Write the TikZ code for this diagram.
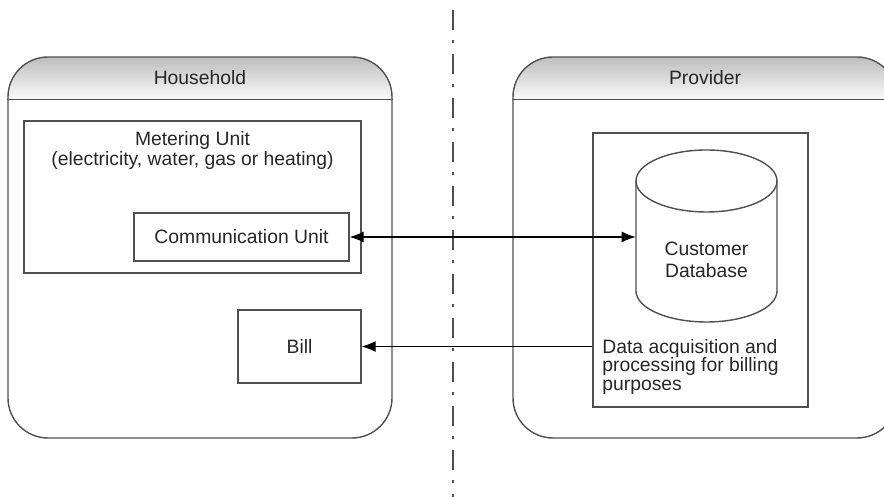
\documentclass[tikz,border=0pt]{standalone}
\usepackage{fontspec}
\setmainfont{Liberation Sans}
\usepackage{tikz}
\usetikzlibrary{positioning, arrows.meta}
\definecolor{color0}{RGB}{80,80,80}
\definecolor{color1}{RGB}{190,190,190}

\begin{document}
\begin{tikzpicture}[font=\fontsize{11}{10.8}\selectfont, text=black!85]
	\tikzstyle{zonebox}=[rectangle, rounded corners=0.8cm, draw=color0, line width=0.8pt, minimum width=7.68cm, minimum height=7.62cm,
		path picture={
			\foreach \i [evaluate=\i as \pct using 100-4.4*\i] in {0,...,21}{
				\fill[sharp corners, color1!\pct!white] ([yshift={-0.04cm*\i}]path picture bounding box.north west) rectangle ([yshift={-0.04cm*(\i+1)-0.01cm}]path picture bounding box.north east);
			}
		}]
	\tikzstyle{unitbox}=[rectangle, draw=color0, line width=0.8pt]
	\tikzstyle{link}=[line width=0.6pt, black]

	\clip (0cm, 0cm) rectangle (17.68cm, 9.94cm);

	% the two sides
	\node[zonebox] (household) at (4cm, 4.99cm) {};
	\node[zonebox] (provider) at (14.1cm, 4.99cm) {};
	\foreach \side in {household, provider}{
		\draw[color0, line width=0.8pt] ([yshift=-0.86cm]\side.north west) -- ([yshift=-0.86cm]\side.north east);
	}
	\node (household-title) at ([yshift=-0.43cm]household.north) {Household};
	\node (provider-title) at ([yshift=-0.43cm]provider.north) {Provider};

	% household
	\node[unitbox, minimum width=6.74cm, minimum height=3.04cm] (metering) at (3.85cm, 6cm) {};
	\node[align=center, font=\fontsize{11}{9.7}\selectfont] (metering-text) at ([yshift=-0.6cm]metering.north) {Metering Unit\\(electricity, water, gas or heating)};
	\node[unitbox, minimum width=4.3cm, minimum height=0.96cm] (comm) at (4.83cm, 5.2cm) {Communication Unit};
	\node[unitbox, minimum width=2.46cm, minimum height=1.46cm] (bill) at (5.99cm, 3.01cm) {Bill};

	% provider
	\node[unitbox, minimum width=4.3cm, minimum height=5.48cm] (data) at (14.01cm, 4.54cm) {};
	\draw[color0, line width=0.8pt, fill=white] (12.72cm, 6.32cm) -- (12.72cm, 4.12cm) arc[start angle=180, end angle=360, x radius=1.41cm, y radius=0.62cm] -- (15.54cm, 6.32cm);
	\draw[color0, line width=0.8pt] (14.13cm, 6.32cm) ellipse[x radius=1.41cm, y radius=0.62cm];
	\node[minimum width=2.82cm, minimum height=2.2cm, inner sep=0] (database) at (14.13cm, 5.2cm) {};
	\node[align=center, font=\fontsize{11}{12.5}\selectfont] (database-text) at (14.13cm, 4.74cm) {Customer\\Database};
	\node[align=left, anchor=west, inner sep=0] (data-text) at (12.04cm, 2.6cm) {Data acquisition and\\processing for billing\\purposes};

	% separation
	\coordinate (sep-top) at (9.06cm, 9.74cm);
	\coordinate (sep-bottom) at (9.06cm, 0cm);
	\draw[color0, line width=1.5pt, dash pattern=on 0.4cm off 0.21cm on 0.06cm off 0.21cm] (sep-top) -- (sep-bottom);

	% links
	\draw[link, {Latex[length=2.8mm, width=2.2mm]}-{Latex[length=2.8mm, width=2.2mm]}] (comm.east) -- (comm.east -| database.west);
	\draw[link, -{Latex[length=2.8mm, width=2.2mm]}] (data.west |- bill.east) -- (bill.east);
\end{tikzpicture}
\end{document}
